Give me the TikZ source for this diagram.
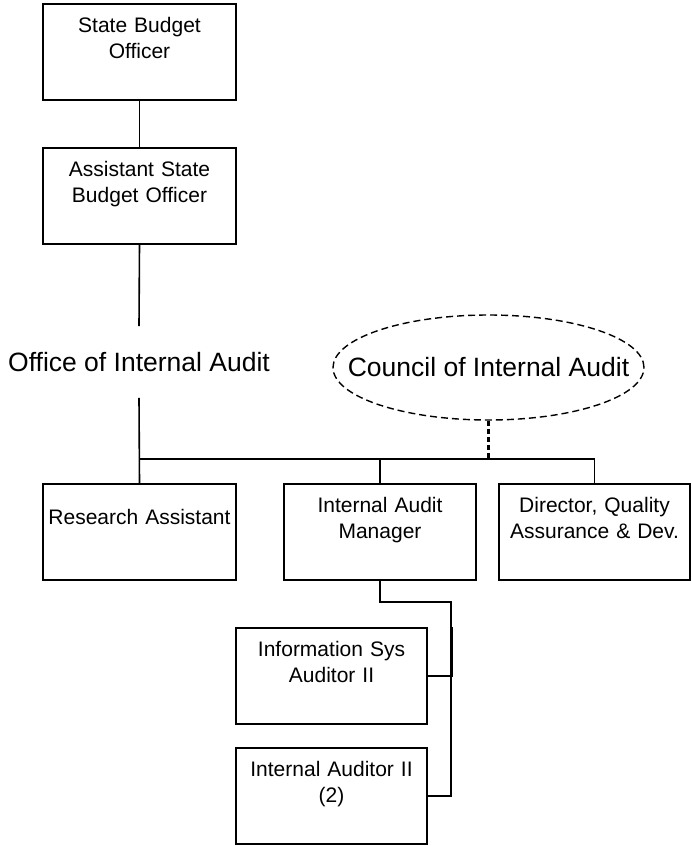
\documentclass[tikz,border=0pt]{standalone}
\usepackage{fontspec}
\setmainfont{Liberation Sans}
\usetikzlibrary{shapes.geometric}

\begin{document}
\begin{tikzpicture}[x=1pt,y=-1pt,
  post/.style={draw, line width=1.7pt, inner sep=0pt, anchor=north,
    text width=#1, align=center, text height=29pt, text depth=67pt,
    font=\fontsize{21}{26}\selectfont},
  post/.default=193pt,
  link/.style={line width=1.6pt},
  big/.style={font=\fontsize{26.5}{32}\selectfont}]
\useasboundingbox (0,0) rectangle (691,846);

\node[post] (sbo) at (139.5,3) {State Budget\\Officer};
\node[post] (asbo) at (139.5,147) {Assistant State\\Budget Officer};

\node[big, inner xsep=0pt, inner ysep=26pt] (oia) at (139,362) {Office of Internal Audit};
\node[big, ellipse, draw, line width=1.4pt, dash pattern=on 7pt off 4pt,
  minimum width=311pt, minimum height=105pt, inner sep=0pt] (council) at (488.5,367.5)
  {\makebox[0pt]{Council of Internal Audit}};

\node[post, text height=41pt, text depth=55pt] (ra) at (139.5,483) {Research Assistant};
\node[post=192pt] (iam) at (380,483) {Internal Audit\\Manager};
\node[post=191pt] (dir) at (594.5,483) {Director, Quality\\Assurance \& Dev.};

\node[post=191pt] (isa) at (331.5,627) {Information Sys\\Auditor II};
\node[post=191pt] (ia2) at (331.5,747) {Internal Auditor II\\(2)};

\draw[link] (sbo.south) -- (asbo.north);
\draw[link] (asbo.south) -- (oia.north);
\draw[link] (oia.south) -- (ra.north);

\coordinate (bar) at (139.5,459);
\draw[link] (bar) -| (dir.north);
\draw[link] (iam.north) -- (iam.north |- bar);
\draw[line width=2.6pt, dash pattern=on 5pt off 3pt] (council.south) -- (council.south |- bar);

% audit staff under the manager
\coordinate (elbow) at (451,602);
\coordinate (split) at (452.5,627);
\draw[link] (iam.south) |- (elbow) |- (ia2.east);
\draw[link] (split) |- (isa.east);

\end{tikzpicture}
\end{document}
